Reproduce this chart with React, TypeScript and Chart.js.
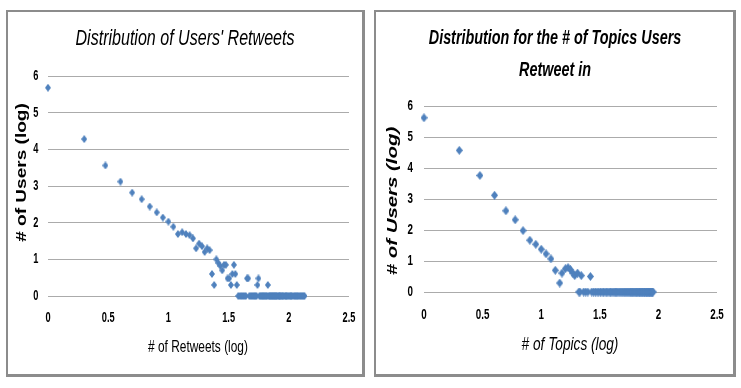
import React, { useEffect, useRef } from "react";
import { Chart, registerables } from "chart.js";

Chart.register(...registerables);

// ---------- data ----------
const xTickMin = 0;
const xTickMax = 2.5;
const xTickStep = 0.5;
const xTickLabels = ["0", "0.5", "1", "1.5", "2", "2.5"];
const yTickMin = 0;
const yTickMax = 6;
const yTickStep = 1;
const yTickLabels = ["0", "1", "2", "3", "4", "5", "6"];

const retweetsTitle = ["Distribution of Users' Retweets"];
const retweetsXLabel = "# of Retweets (log)";
const retweetsYLabel = "# of Users (log)";

// log10(# of retweets)
const retweetsX = [
  0, 0.301, 0.477, 0.602, 0.699, 0.778, 0.845, 0.903, 0.954, 1.0,
  1.041, 1.079, 1.114, 1.146, 1.176, 1.204, 1.23, 1.255, 1.279, 1.301,
  1.322, 1.342, 1.362, 1.38, 1.398, 1.415, 1.431, 1.447, 1.462, 1.477,
  1.491, 1.505, 1.519, 1.531, 1.544, 1.556, 1.568, 1.653, 1.663, 1.74,
  1.748, 1.826,
  1.58, 1.591, 1.602, 1.613, 1.623, 1.633, 1.643, 1.672, 1.681, 1.69,
  1.699, 1.708, 1.716, 1.724, 1.732, 1.756, 1.763, 1.771, 1.778, 1.785,
  1.792, 1.799, 1.806, 1.813, 1.82, 1.833, 1.839, 1.845, 1.851, 1.857,
  1.863, 1.869, 1.875, 1.881, 1.886, 1.892, 1.898, 1.903, 1.914, 1.919,
  1.924, 1.929, 1.934, 1.944, 1.949, 1.954, 1.964, 1.973, 1.978, 1.982,
  1.991, 2.0, 2.009, 2.017, 2.021, 2.029, 2.041, 2.049, 2.057, 2.064,
  2.072, 2.079, 2.09, 2.097, 2.107, 2.114, 2.124, 2.13,
];
// log10(# of users)
const retweetsY = [
  5.68, 4.28, 3.56, 3.12, 2.82, 2.64, 2.44, 2.28, 2.14, 2.03,
  1.89, 1.69, 1.74, 1.69, 1.66, 1.57, 1.3, 1.43, 1.36, 1.2,
  1.3, 1.25, 0.6, 0.3, 1.0, 0.9, 0.82, 0.7, 0.85, 0.85,
  0.48, 0.48, 0.3, 0.6, 0.85, 0.6, 0.3, 0.48, 0.48, 0.3,
  0.48, 0.3,
  0, 0, 0, 0, 0, 0, 0, 0, 0, 0,
  0, 0, 0, 0, 0, 0, 0, 0, 0, 0,
  0, 0, 0, 0, 0, 0, 0, 0, 0, 0,
  0, 0, 0, 0, 0, 0, 0, 0, 0, 0,
  0, 0, 0, 0, 0, 0, 0, 0, 0, 0,
  0, 0, 0, 0, 0, 0, 0, 0, 0, 0,
  0, 0, 0, 0, 0, 0, 0, 0,
];

const topicsTitle = ["Distribution for the # of Topics Users", "Retweet in"];
const topicsXLabel = "# of Topics (log)";
const topicsYLabel = "# of Users (log)";

// log10(# of topics)
const topicsX = [
  0, 0.301, 0.477, 0.602, 0.699, 0.778, 0.845, 0.903, 0.954, 1.0,
  1.041, 1.083, 1.12, 1.158, 1.177, 1.206, 1.229, 1.25, 1.27, 1.286,
  1.31, 1.342, 1.42,
  1.322, 1.33, 1.362, 1.38, 1.398, 1.431, 1.447, 1.462, 1.477, 1.491,
  1.505, 1.519, 1.531, 1.544, 1.556, 1.568, 1.58, 1.591, 1.602, 1.613,
  1.623, 1.633, 1.643, 1.653, 1.663, 1.672, 1.681, 1.69, 1.699, 1.708,
  1.716, 1.724, 1.732, 1.74, 1.748, 1.756, 1.763, 1.771, 1.778, 1.785,
  1.792, 1.799, 1.806, 1.813, 1.82, 1.826, 1.833, 1.839, 1.845, 1.851,
  1.857, 1.863, 1.869, 1.875, 1.881, 1.886, 1.892, 1.898, 1.903, 1.908,
  1.914, 1.919, 1.924, 1.929, 1.934, 1.94, 1.944, 1.949, 1.954,
];
// log10(# of users)
const topicsY = [
  5.62, 4.57, 3.76, 3.12, 2.62, 2.33, 1.98, 1.67, 1.54, 1.38,
  1.23, 1.07, 0.7, 0.29, 0.61, 0.75, 0.79, 0.72, 0.61, 0.53,
  0.61, 0.53, 0.5,
  0, 0, 0, 0, 0, 0, 0, 0, 0, 0,
  0, 0, 0, 0, 0, 0, 0, 0, 0, 0,
  0, 0, 0, 0, 0, 0, 0, 0, 0, 0,
  0, 0, 0, 0, 0, 0, 0, 0, 0, 0,
  0, 0, 0, 0, 0, 0, 0, 0, 0, 0,
  0, 0, 0, 0, 0, 0, 0, 0, 0, 0,
  0, 0, 0, 0, 0, 0, 0, 0, 0, 0,
];

// ---------- styling ----------
const MARKER_COLOR = "#4F81BD";
const GRID_COLOR = "#ababab";
const SANS = "'Liberation Sans', Arial, sans-serif";

function makeDiamond(w: number, h: number) {
  const c = document.createElement("canvas");
  c.width = w;
  c.height = h;
  const ctx = c.getContext("2d")!;
  ctx.fillStyle = MARKER_COLOR;
  ctx.beginPath();
  ctx.moveTo(w / 2, 0);
  ctx.lineTo(w, h / 2);
  ctx.lineTo(w / 2, h);
  ctx.lineTo(0, h / 2);
  ctx.closePath();
  ctx.fill();
  return c;
}

// Draws titles, axis titles and tick labels as canvas text, squeezed or stretched
// along the text direction (the reference uses a tall, condensed face).
type TextItem = {
  lines: string[];
  font: string;
  x: number;
  y: number;
  lineGap: number;
  sx: number;
  rotate: number;
};

type TickText = {
  font: string;
  sx: number;
  xLabelOffset: number; // below chart area bottom
  yLabelOffset: number; // left of chart area left
};

function drawScaled(
  ctx: CanvasRenderingContext2D,
  text: string,
  x: number,
  y: number,
  sx: number,
  align: CanvasTextAlign,
) {
  ctx.save();
  ctx.translate(x, y);
  ctx.scale(sx, 1);
  ctx.textAlign = align;
  ctx.fillText(text, 0, 0);
  ctx.restore();
}

const scaledTextPlugin = {
  id: "scaledText",
  afterDraw(chart: any, _args: any, opts: any) {
    const ctx: CanvasRenderingContext2D = chart.ctx;
    const items: TextItem[] = opts.items || [];
    ctx.save();
    ctx.fillStyle = "#000";
    ctx.textBaseline = "middle";
    for (const t of items) {
      ctx.save();
      ctx.translate(t.x, t.y);
      if (t.rotate) ctx.rotate(t.rotate);
      ctx.font = t.font;
      t.lines.forEach((line, i) => drawScaled(ctx, line, 0, i * t.lineGap, t.sx, "center"));
      ctx.restore();
    }
    const tk: TickText | undefined = opts.ticks;
    if (tk) {
      const area = chart.chartArea;
      ctx.font = tk.font;
      const xs = chart.scales.x;
      xs.ticks.forEach((t: any, i: number) => {
        const label = xTickLabels[i] ?? String(t.value);
        drawScaled(ctx, label, xs.getPixelForValue(t.value), area.bottom + tk.xLabelOffset, tk.sx, "center");
      });
      const ys = chart.scales.y;
      ys.ticks.forEach((t: any, i: number) => {
        const label = yTickLabels[i] ?? String(t.value);
        drawScaled(ctx, label, area.left - tk.yLabelOffset, ys.getPixelForValue(t.value), tk.sx, "right");
      });
    }
    ctx.restore();
  },
};

type Spec = {
  xs: number[];
  ys: number[];
  padTop: number;
  padRight: number;
  yAxisWidth: number;
  xAxisHeight: number;
  markerW: number;
  markerH: number;
  texts: TextItem[];
  ticks: TickText;
};

function buildChart(canvas: HTMLCanvasElement, s: Spec) {
  const points = s.xs.map((x, i) => ({ x, y: s.ys[i] }));
  return new Chart(canvas, {
    type: "scatter",
    data: {
      datasets: [
        {
          data: points,
          pointStyle: makeDiamond(s.markerW, s.markerH),
          pointRadius: 3,
          backgroundColor: MARKER_COLOR,
          borderColor: MARKER_COLOR,
          clip: false as any,
        },
      ],
    },
    plugins: [scaledTextPlugin],
    options: {
      animation: false,
      responsive: false,
      events: [],
      layout: { padding: { left: 0, right: s.padRight, top: s.padTop, bottom: 0 } },
      plugins: {
        legend: { display: false },
        tooltip: { enabled: false },
        title: { display: false },
        scaledText: { items: s.texts, ticks: s.ticks },
      },
      scales: {
        x: {
          type: "linear",
          min: xTickMin,
          max: xTickMax,
          ticks: { stepSize: xTickStep, display: false },
          grid: { display: false, drawTicks: false },
          border: { display: false },
          title: { display: false },
          afterFit: (scale: any) => {
            scale.height = s.xAxisHeight;
          },
        },
        y: {
          type: "linear",
          min: yTickMin,
          max: yTickMax,
          ticks: { stepSize: yTickStep, display: false },
          grid: { color: GRID_COLOR, lineWidth: 1, drawTicks: false },
          border: { display: false },
          title: { display: false },
          afterFit: (scale: any) => {
            scale.width = s.yAxisWidth;
          },
        },
      },
    },
  } as any);
}

export default function App() {
  const leftRef = useRef<HTMLCanvasElement>(null);
  const rightRef = useRef<HTMLCanvasElement>(null);

  useEffect(() => {
    const left = buildChart(leftRef.current!, {
      xs: retweetsX,
      ys: retweetsY,
      padTop: 76,
      padRight: 21,
      yAxisWidth: 48,
      xAxisHeight: 92,
      markerW: 6,
      markerH: 8,
      texts: [
        { lines: retweetsTitle, font: `italic normal 22px ${SANS}`, x: 185, y: 39, lineGap: 0, sx: 0.73, rotate: 0 },
        { lines: [retweetsXLabel], font: `normal normal 17px ${SANS}`, x: 198, y: 347, lineGap: 0, sx: 0.7, rotate: 0 },
        { lines: [retweetsYLabel], font: `normal bold 14px ${SANS}`, x: 22, y: 172.5, lineGap: 0, sx: 1.36, rotate: -Math.PI / 2 },
      ],
      ticks: { font: `normal bold 14px ${SANS}`, sx: 0.66, xLabelOffset: 22, yLabelOffset: 9.5 },
    });
    const right = buildChart(rightRef.current!, {
      xs: topicsX,
      ys: topicsY,
      padTop: 106,
      padRight: 24,
      yAxisWidth: 54,
      xAxisHeight: 96,
      markerW: 7,
      markerH: 9,
      texts: [
        { lines: topicsTitle, font: `italic bold 21px ${SANS}`, x: 185, y: 38.5, lineGap: 31.5, sx: 0.684, rotate: 0 },
        { lines: [topicsXLabel], font: `italic normal 18px ${SANS}`, x: 200, y: 345, lineGap: 0, sx: 0.76, rotate: 0 },
        { lines: [topicsYLabel], font: `italic bold 15px ${SANS}`, x: 23, y: 201, lineGap: 0, sx: 1.36, rotate: -Math.PI / 2 },
      ],
      ticks: { font: `normal bold 14px ${SANS}`, sx: 0.7, xLabelOffset: 23, yLabelOffset: 11 },
    });
    return () => {
      left.destroy();
      right.destroy();
    };
  }, []);

  const box: React.CSSProperties = {
    position: "absolute",
    boxSizing: "border-box",
    borderStyle: "solid",
    borderColor: "#8c8c8c",
    borderWidth: "2px 3px 3px 2px",
  };

  return (
    <div
      style={{
        position: "fixed",
        left: 0,
        top: 0,
        width: 741,
        height: 388,
        background: "#fff",
        overflow: "hidden",
      }}
    >
      <div style={{ ...box, left: 6, top: 10, width: 359, height: 367 }} />
      <div style={{ ...box, left: 374, top: 10, width: 362, height: 367 }} />
      <canvas
        ref={leftRef}
        width={370}
        height={388}
        style={{ position: "absolute", left: 0, top: 0, width: 370, height: 388 }}
      />
      <canvas
        ref={rightRef}
        width={371}
        height={388}
        style={{ position: "absolute", left: 370, top: 0, width: 371, height: 388 }}
      />
    </div>
  );
}
